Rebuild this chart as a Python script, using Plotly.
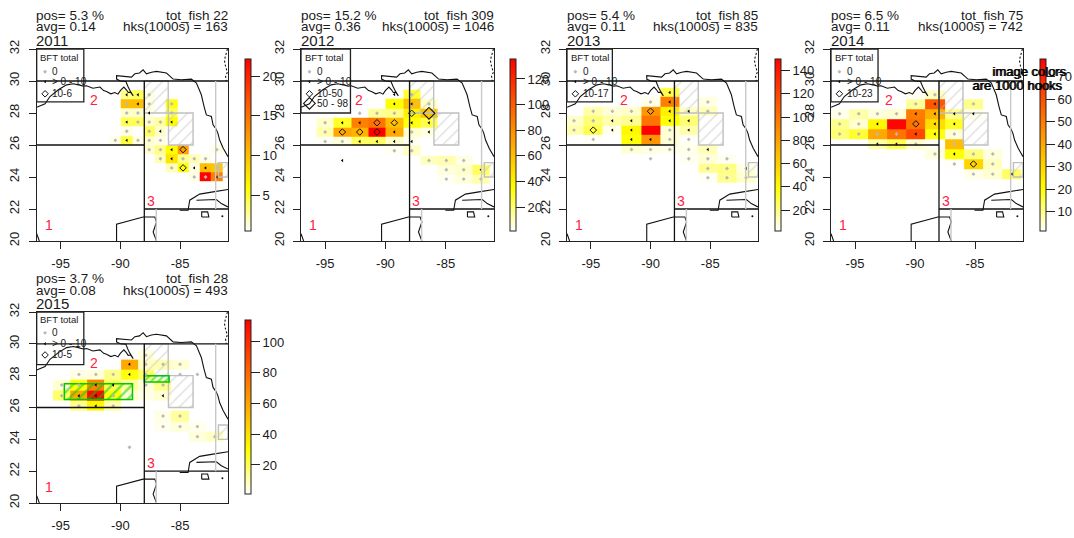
import plotly.graph_objects as go

W, H = 1074, 538
_ = None
FONT = "Liberation Sans, Arial, sans-serif"
INK = "#1a1a1a"

YEARS = [2011, 2012, 2013, 2014, 2015]
POS = ["pos= 5.3 %", "pos= 15.2 %", "pos= 5.4 %", "pos= 6.5 %", "pos= 3.7 %"]
AVG = ["avg= 0.14", "avg= 0.36", "avg= 0.11", "avg= 0.11", "avg= 0.08"]
TOT = ["tot_fish 22", "tot_fish 309", "tot_fish 85", "tot_fish 75", "tot_fish 28"]
HKS = ["hks(1000s) = 163", "hks(1000s) = 1046", "hks(1000s) = 835", "hks(1000s) = 742", "hks(1000s) = 493"]

LEGEND_LABELS = [
    ["0", "> 0 - 10", "10-6"],
    ["0", "> 0 - 10", "10-50", "50 - 98"],
    ["0", "> 0 - 10", "10-17"],
    ["0", "> 0 - 10", "10-23"],
    ["0", "> 0 - 10", "10-5"],
]

# column and row centres of the hook grids, one set per year
LON_2011 = [-90.42, -89.47, -88.53, -87.59, -86.65, -85.71, -84.76, -83.82, -82.88, -81.94]
LAT_2011 = [29.14, 28.57, 28.0, 27.43, 26.86, 26.29, 25.71, 25.14, 24.57, 24.0]
HOOKS_2011 = [
    [_, 3, 4, 1, _, _, _, _, _, _],
    [_, 10, 10, 1, _, 5.5, _, _, _, _],
    [_, 1.5, 1.5, 1, _, 4, _, _, _, _],
    [_, 4, 4, 1.5, 2.5, 6, _, _, _, _],
    [_, 1, _, 4, 1.5, _, _, _, _, _],
    [1, 4.5, 1, 1.5, 1, _, _, _, _, _],
    [_, _, _, 1.5, 3, 6, 12, _, _, 1],
    [_, _, _, _, 2, 7.5, 3, 2, 1, _],
    [_, _, _, _, _, 2, 5.5, 1, 10, 9.5],
    [_, _, _, _, _, _, _, 1, 22, 14],
]
FISH_2011 = [
    [_, 5, 5, 0, _, _, _, _, _, _],
    [_, 0, 5, 0, _, 0, _, _, _, _],
    [_, 0, 0, 5, _, 0, _, _, _, _],
    [_, 5, 0, 0, 0, 5, _, _, _, _],
    [_, 0, _, 0, 5, _, _, _, _, _],
    [0, 5, 0, 0, 0, _, _, _, _, _],
    [_, _, _, 0, 0, 5, 20, _, _, 0],
    [_, _, _, _, 0, 5, 0, 0, 0, _],
    [_, _, _, _, _, 0, 20, 5, 5, 0],
    [_, _, _, _, _, _, _, 0, 0, 5],
]

LON_2012 = [-95.0, -93.57, -92.13, -90.7, -89.26, -87.82, -86.39, -84.95, -83.51, -82.08]
LAT_2012 = [29.16, 28.57, 27.98, 27.39, 26.81, 26.22, 25.64, 25.03, 24.45, 23.87]
HOOKS_2012 = [
    [_, _, _, _, _, 28, _, _, _, _],
    [_, _, _, _, 35, 60, 8, _, _, _],
    [_, _, _, 15, 17, 40, 58, _, _, _],
    [8, 30, 85, 90, 60, 33, 25, _, _, _],
    [12, 70, 65, 135, 68, 8, 5, _, _, _],
    [3, 6, 22, 22, 8, 3, _, _, _, _],
    [_, _, _, _, 3, 9, _, _, _, _],
    [_, _, _, _, _, _, 10, 12, 5, _],
    [_, _, _, _, _, _, _, 6, 8, 22],
    [_, _, _, _, _, _, _, 3, 6, 12],
]
FISH_2012 = [
    [_, _, _, _, 5, 0, _, _, _, _],
    [_, _, _, _, 5, 5, 0, _, _, _],
    [_, _, 0, 0, 0, 20, 70, _, _, _],
    [0, 5, 5, 20, 20, 5, 5, _, _, _],
    [0, 20, 20, 20, 5, 0, 5, _, _, _],
    [0, 0, 5, 5, 5, 5, _, _, _, _],
    [_, _, _, _, 0, 0, _, _, _, _],
    [_, 5, _, _, _, _, 0, 0, 0, _],
    [_, _, _, _, _, _, _, 0, 0, 5],
    [_, _, _, _, _, _, _, 0, 0, 0],
]

LON_2013 = [-96.41, -94.8, -93.2, -91.6, -90.0, -88.39, -86.8, -85.2, -83.6, -82.0]
LAT_2013 = [29.28, 28.69, 28.11, 27.52, 26.93, 26.35, 25.72, 25.14, 24.53, 23.95]
HOOKS_2013 = [
    [_, _, _, _, _, 28, _, _, _, _],
    [_, _, _, _, 5, 95, _, 6, _, _],
    [_, 14, 8, 10, 85, 45, 10, 12, _, _],
    [10, 22, 14, 18, 100, 38, 22, _, _, _],
    [14, 28, 5, 42, 150, 8, 14, _, _, _],
    [_, 3, _, 38, 85, 8, 3, _, _, _],
    [_, _, _, 8, 6, 5, 5, 12, _, _],
    [_, _, _, _, _, _, 4, 8, 4, _],
    [_, _, _, _, _, _, _, 18, 20, 6],
    [_, _, _, _, _, _, _, 3, 18, 10],
]
FISH_2013 = [
    [_, _, _, _, _, 5, _, _, _, _],
    [_, _, _, _, 0, 5, _, 0, _, _],
    [_, 0, 0, 0, 20, 5, 5, 0, _, _],
    [0, 0, 5, 5, _, 5, 5, _, _, _],
    [0, 20, 5, 5, _, 0, 5, _, _, _],
    [_, 0, _, 5, 5, 0, 0, _, _, _],
    [_, _, _, 0, 0, 0, 0, 5, _, _],
    [_, _, _, _, 0, _, 0, 0, 0, _],
    [_, _, _, _, _, _, _, 0, 0, 5],
    [_, _, _, _, _, _, _, 0, 0, 0],
]

LON_2014 = [-96.28, -94.69, -93.13, -91.54, -89.93, -88.34, -86.72, -85.13, -83.52, -81.93]
LAT_2014 = [29.14, 28.57, 27.95, 27.32, 26.69, 26.06, 25.44, 24.81, 24.18]
HOOKS_2014 = [
    [_, _, _, _, 2, 6, _, _, _, _],
    [_, _, _, _, 9, 58, _, 10, _, _],
    [3, 8, 4, 5, 50, 38, 10, 3, _, _],
    [10, 5, 22, 77, 52, 28, 18, _, _, _],
    [12, 17, 40, 52, 62, 20, 4, _, _, _],
    [_, _, 8, 14, 5, 2, 35, _, _, _],
    [_, _, _, _, _, 4, 20, 11, 4, _],
    [_, _, _, _, _, _, 2, 30, 6, _],
    [_, _, _, _, _, _, _, 3, 5, 13],
]
FISH_2014 = [
    [_, _, _, _, _, 0, _, _, _, _],
    [_, _, _, _, 0, 5, _, 0, _, _],
    [0, 0, 0, 0, 5, 5, 5, 5, _, _],
    [0, 0, 5, _, 20, 5, 5, _, _, _],
    [0, 0, 0, 0, 5, 5, 0, _, _, _],
    [_, _, 5, 5, 0, _, 0, _, _, _],
    [_, _, _, _, _, 0, 5, 0, 0, _],
    [_, _, _, _, _, _, 0, 20, 0, _],
    [_, _, _, _, _, _, _, 0, 0, 5],
]

LON_2015 = [-94.91, -93.47, -92.05, -90.6, -89.24, -87.87, -86.43, -85.01, -83.56, -82.11]
LAT_2015 = [29.29, 28.72, 28.08, 27.41, 26.74, 26.09, 25.47, 24.8, 24.17, 23.5]
HOOKS_2015 = [
    [_, _, _, _, _, 5, _, _, _, _],
    [_, _, _, _, 58, 8, 10, 6, _, _],
    [_, 4, 5, 14, 28, 18, _, _, _, _],
    [6, 28, 70, 20, 12, 5, 14, _, _, _],
    [18, 58, 112, 28, 6, 4, 6, _, _, _],
    [_, 14, 32, 10, _, _, _, _, _, _],
    [_, _, _, _, _, _, 4, 12, _, _],
    [_, _, _, _, _, _, 3, 5, 3, _],
    [_, _, _, _, _, _, _, _, 5, 8],
    [_, _, _, _, _, _, _, _, _, _],
]
FISH_2015 = [
    [_, _, _, _, _, 0, _, _, _, _],
    [_, _, _, _, 5, 0, 0, 0, _, _],
    [_, 0, 0, 0, 5, 0, _, 0, 0, _],
    [0, 0, 5, 5, _, 0, 0, _, _, _],
    [0, 5, 5, 0, _, _, 5, _, _, _],
    [_, 0, 5, 0, _, _, _, _, _, _],
    [_, _, _, _, _, _, 0, 0, _, _],
    [_, _, _, _, _, _, 0, 0, 0, _],
    [_, _, _, _, _, _, _, _, 0, 0],
    [_, _, _, _, 0, _, _, _, _, _],
]

LONS = [LON_2011, LON_2012, LON_2013, LON_2014, LON_2015]
LATS = [LAT_2011, LAT_2012, LAT_2013, LAT_2014, LAT_2015]
HOOKS = [HOOKS_2011, HOOKS_2012, HOOKS_2013, HOOKS_2014, HOOKS_2015]
FISH = [FISH_2011, FISH_2012, FISH_2013, FISH_2014, FISH_2015]

# colour bar ranges and ticks
Z_RANGE = [(0.46, 22.15), (1.25, 135.6), (2, 150), (1.4, 77.9), (1.1, 114.3)]
Z_TICKS = [[5, 10, 15, 20], [20, 40, 60, 80, 100, 120], [20, 40, 60, 80, 100, 120, 140],
           [10, 20, 30, 40, 50, 60, 70], [20, 40, 60, 80, 100]]

# map outlines
GULF_LON = [-97, -96.58, -96.3, -95.89, -95.19, -94.5, -93.94, -93.52, -93.1, -92.83, -92.3, -91.71, -91.4, -91.16,
            -90.8, -90.46, -90.2, -89.99, -89.71, -89.5, -89.35, -89.15, -88.93, -89.2, -89.35, -89.54, -90.0, -90.32,
            -90.32, -89.7, -89.07, -88.79, -88.4, -88.1, -87.82, -87.4, -86.98, -86.15, -85.59, -84.9, -84.06, -83.64,
            -83.23, -83.0, -82.81, -82.39, -82.25, -82.0, -81.84, -81.7, -81.4, -81.0]
GULF_LAT = [28.36, 28.51, 28.57, 29.03, 29.45, 29.76, 29.83, 29.76, 29.68, 29.7, 29.55, 29.62, 29.4, 29.35,
            29.2, 29.28, 29.18, 29.41, 29.62, 29.45, 29.28, 29.3, 29.07, 29.4, 29.62, 29.97, 30.0, 30.12,
            30.33, 30.28, 30.24, 30.45, 30.5, 30.7, 30.45, 30.55, 30.6, 30.5, 30.12, 30.08, 30.12, 29.87,
            29.14, 28.4, 27.88, 27.78, 27.26, 27.0, 26.73, 26.31, 25.8, 25.27]
YUC_LON = [-90.32, -90.32, -88.1, -87.12, -86.98, -87.26, -86.98]
YUC_LAT = [20, 21.05, 21.5, 21.5, 21.19, 20.56, 20]
CUBA_N_LON = [-85.04, -84.34, -84.2, -83.37, -82.25, -81]
CUBA_N_LAT = [21.92, 21.92, 22.55, 22.93, 23.07, 23.22]
CUBA_S_LON = [-83.64, -81.97, -81.56, -81]
CUBA_S_LAT = [22.55, 22.59, 22.34, 22.13]
MEX_LON = [-97, -96.78]
MEX_LAT = [20.46, 20]
ISLE_LON = [-83.2, -82.6, -82.7, -83.2, -83.2]
ISLE_LAT = [21.5, 21.5, 21.82, 21.82, 21.5]
DOT_LON = [-81.47]
DOT_LAT = [21.55]
ATL_LON = [-81.05, -81.3, -81.2, -81.05, -81.2, -81.15]
ATL_LAT = [32, 31.3, 30.9, 30.55, 30.3, 30]
OUTLINES = [(GULF_LON, GULF_LAT), (YUC_LON, YUC_LAT), (CUBA_N_LON, CUBA_N_LAT),
            (CUBA_S_LON, CUBA_S_LAT), (MEX_LON, MEX_LAT), (ISLE_LON, ISLE_LAT)]

# hatched closed areas: (lon centre, lon width, lat base, lat height)
CLOSED = [(-87, 2, 28, 2), (-84.95, 2.06, 26, 2), (-81.4, 0.8, 24, 0.9)]
GREEN_2015 = [(-91.84, 5.7, 26.5, 1.0), (-86.96, 2.07, 27.6, 0.4)]

# legend box right edge and bottom edge, in map units
BOX_RIGHT = [-93.06, -92.9, -93.2, -93.08, -93.06]
BOX_BOTTOM = [28.69, 28.0, 28.69, 28.69, 28.69]
LEG_LAT = [30.58, 29.96, 29.2, 28.6]
LEG_LAT_2015 = [30.69, 30.0, 29.3]

# pixel layout of each panel: left, right, top, bottom, bar left, bar top, bar bottom
PANELS = [
    (36.7, 228, 49, 241, 245, 59, 231),
    (301, 494, 49, 241, 510, 59, 231),
    (567, 758, 49, 241, 775, 59, 231),
    (831, 1023, 49, 241, 1040, 59, 231),
    (36.7, 228, 312, 503, 245, 320, 494),
]

COLORSCALE = [[0, "#FFFFFF"], [0.25, "#FFFF00"], [1, "#FF0000"]]


def xp(px):
    return px / W


def yp(py):
    return 1 - py / H


fig = go.Figure()
annotations = []
shapes = []


def note(x, y, text, size=13, anchor="center", color=INK):
    nudge = {"left": -2, "right": 2, "center": 0}[anchor]
    annotations.append(dict(x=xp(x + nudge), y=yp(y), xref="paper", yref="paper", text=text, showarrow=False,
                            xanchor=anchor, yanchor="middle", font=dict(family=FONT, size=size, color=color)))


def map_note(ax, lon, lat, text, size, anchor="center", color=INK):
    annotations.append(dict(x=lon, y=lat, xref=f"x{ax}", yref=f"y{ax}", text=text, showarrow=False,
                            xanchor=anchor, yanchor="middle", font=dict(family=FONT, size=size, color=color)))


def seg(ax, x0, y0, x1, y1, color="#111", width=1.3):
    shapes.append(dict(type="line", xref=f"x{ax}", yref=f"y{ax}", x0=x0, y0=y0, x1=x1, y1=y1,
                       line=dict(color=color, width=width)))


def hatch(ax, spec, color, size, line_w, solidity):
    lon, width, base, height = spec
    return go.Bar(x=[lon], y=[height], base=[base], width=[width], xaxis=f"x{ax}", yaxis=f"y{ax}",
                  showlegend=False, hoverinfo="skip",
                  marker=dict(color="rgba(0,0,0,0)", line=dict(color=color, width=line_w),
                              pattern=dict(shape="/", fgcolor=color, bgcolor="rgba(0,0,0,0)", size=size,
                                           solidity=solidity)))


layout_axes = {}
for i, (year, panel) in enumerate(zip(YEARS, PANELS)):
    ax = i + 1
    left, right, top, bottom, bar_left, bar_top, bar_bottom = panel
    lons, lats, hooks, fish = LONS[i], LATS[i], HOOKS[i], FISH[i]
    zmin, zmax = Z_RANGE[i]

    fig.add_trace(go.Heatmap(
        x=lons, y=lats[::-1], z=hooks[::-1], zmin=zmin, zmax=zmax, colorscale=COLORSCALE,
        xaxis=f"x{ax}", yaxis=f"y{ax}", hoverongaps=False,
        colorbar=dict(x=xp(bar_left), xanchor="left", xpad=0, ypad=0, thickness=5.5,
                      y=yp(bar_bottom), yanchor="bottom", len=(bar_bottom - bar_top) / H,
                      tickvals=Z_TICKS[i], ticks="outside", ticklen=9, tickwidth=1, tickcolor="#222",
                      tickprefix="\u00a0", outlinecolor="#222", outlinewidth=1,
                      tickfont=dict(family=FONT, size=13, color=INK))))

    for spec in CLOSED:
        fig.add_trace(hatch(ax, spec, "#c0c0c0", 8, 1.4, 0.18))
    if year == 2015:
        fig.add_trace(hatch(ax, GREEN_2015[0], "#00c800", 7, 1.5, 0.35))
        fig.add_trace(hatch(ax, GREEN_2015[1], "#00c800", 5, 1.5, 0.45))

    for olon, olat in OUTLINES:
        fig.add_trace(go.Scatter(x=olon, y=olat, mode="lines", xaxis=f"x{ax}", yaxis=f"y{ax}", showlegend=False,
                                 hoverinfo="skip", line=dict(color="#111", width=1.1)))
    fig.add_trace(go.Scatter(x=ATL_LON, y=ATL_LAT, mode="lines", xaxis=f"x{ax}", yaxis=f"y{ax}", showlegend=False,
                             hoverinfo="skip", line=dict(color="#111", width=1.1, dash="2px,2px")))
    fig.add_trace(go.Scatter(x=DOT_LON, y=DOT_LAT, mode="markers", xaxis=f"x{ax}", yaxis=f"y{ax}", showlegend=False,
                             hoverinfo="skip", marker=dict(color="#111", size=2)))

    # fish markers per cell, sorted into the four legend classes
    classes = {"zero": ([], []), "few": ([], []), "some": ([], []), "many": ([], [])}
    for r, row in enumerate(fish):
        for c, val in enumerate(row):
            if val is None:
                continue
            key = "zero" if val == 0 else "few" if val < 10 else "some" if val < 50 else "many"
            classes[key][0].append(lons[c])
            classes[key][1].append(lats[r])
    styles = {
        "zero": dict(symbol="diamond", size=3, color="#b8b8b8"),
        "few": dict(symbol="triangle-left", size=3, color="#000"),
        "some": dict(symbol="diamond-open", size=5, color="#111", line=dict(width=1, color="#111")),
        "many": dict(symbol="diamond-open", size=9, color="#111", line=dict(width=1.1, color="#111")),
    }
    for key, (mx, my) in classes.items():
        if mx:
            fig.add_trace(go.Scatter(x=mx, y=my, mode="markers", xaxis=f"x{ax}", yaxis=f"y{ax}", showlegend=False,
                                     marker=styles[key]))

    # in-plot legend
    leg_lat = LEG_LAT_2015 if year == 2015 else LEG_LAT
    labels = LEGEND_LABELS[i]
    keys = ["zero", "few", "some", "many"][:len(labels)]
    for key, label, lat in zip(keys, labels, leg_lat):
        st = dict(styles[key])
        fig.add_trace(go.Scatter(x=[-96.3], y=[lat], mode="markers", xaxis=f"x{ax}", yaxis=f"y{ax}", showlegend=False,
                                 hoverinfo="skip", marker=st))
        map_note(ax, -95.85, lat, label, 10, "left")
    map_note(ax, -96.85, 31.5, "BFT total", 9.5, "left")
    shapes.append(dict(type="rect", xref=f"x{ax}", yref=f"y{ax}", x0=-97, x1=BOX_RIGHT[i], y0=BOX_BOTTOM[i], y1=32,
                       line=dict(color="#222", width=1.3)))

    # area lines
    seg(ax, -97, 30, -81, 30)
    seg(ax, -97, 26, -88, 26)
    seg(ax, -88, 20, -88, 30)
    seg(ax, -88, 22, -81, 22)
    seg(ax, -82.03, 22, -82.03, 30, "#c8c8c8", 1.4)
    seg(ax, -87, 20, -87, 22, "#c8c8c8", 1.4)

    for lon, lat, t in [(-96, 21, "1"), (-92.2, 28.8, "2"), (-87.45, 22.5, "3")]:
        map_note(ax, lon, lat, t, 14, "center", "#FF2244")

    # texts above the panel
    y0 = top - 34
    note(left - 0.5, y0, POS[i], 13.5, "left")
    note(left - 0.5, y0 + 12, AVG[i], 13.5, "left")
    note(left - 0.5, y0 + 25, str(year), 15, "left")
    note(right, y0, TOT[i], 13.5, "right")
    note(right, y0 + 12, HKS[i], 13.5, "right")

    suffix = "" if ax == 1 else str(ax)
    layout_axes[f"xaxis{suffix}"] = dict(
        domain=[left / W, right / W], range=[-97, -81], anchor=f"y{ax}", tickvals=[-95, -90, -85],
        ticktext=["-95", "-90", "-85"], ticks="outside", ticklen=7, tickwidth=1, tickcolor="#222",
        ticklabelstandoff=3,
        showgrid=False, zeroline=False, showline=True, linecolor="#222", linewidth=1.2, mirror=True,
        tickfont=dict(family=FONT, size=13, color=INK))
    layout_axes[f"yaxis{suffix}"] = dict(
        domain=[1 - bottom / H, 1 - top / H], range=[20, 32], anchor=f"x{ax}", tickvals=[20, 22, 24, 26, 28, 30, 32],
        ticks="outside", ticklen=7, tickwidth=1, tickcolor="#222", tickangle=-90, ticklabelstandoff=4,
        showgrid=False, zeroline=False, showline=True, linecolor="#222", linewidth=1.2, mirror=True,
        tickfont=dict(family=FONT, size=13, color=INK))

# overprinted note beside the 2014 colour bar
for dx in (0, 0.6):
    note(1029 + dx, 71, "image colors", 13, "center", "#000")
    note(1017 + dx, 86, "are 1000 hooks", 13, "center", "#000")

fig.update_layout(
    width=W, height=H, margin=dict(l=0, r=0, t=0, b=0, autoexpand=False), paper_bgcolor="white",
    plot_bgcolor="rgba(0,0,0,0)", barmode="overlay", showlegend=False, annotations=annotations, shapes=shapes,
    **layout_axes)

fig.write_html("out.html", config={"displayModeBar": False}, post_script="document.body.style.margin='0';")
